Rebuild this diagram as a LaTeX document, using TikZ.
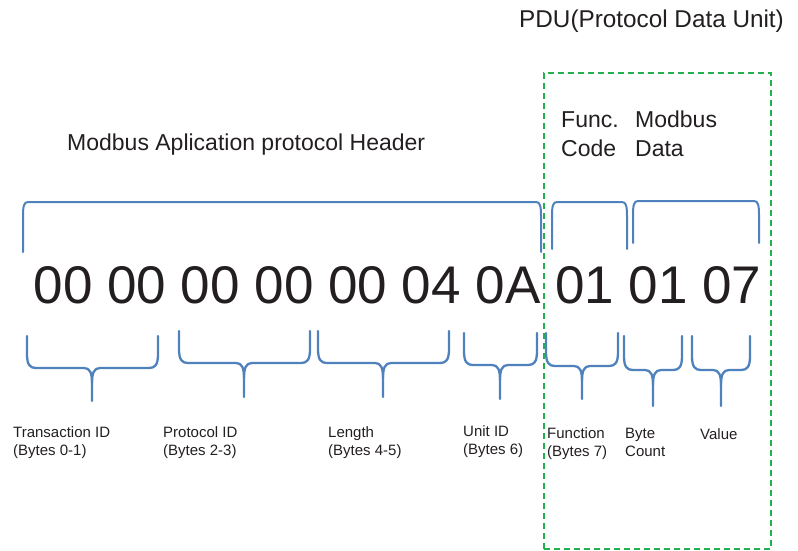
\documentclass[tikz,border=0pt]{standalone}
\usepackage{fontspec}
\setmainfont{Liberation Sans}
\definecolor{txt}{HTML}{231F20}
\definecolor{braceblue}{HTML}{4F81BD}
\definecolor{pdugreen}{HTML}{22B14C}
\newcommand\mbDownBrace[6]{% L R M T H B
  \draw[downbrace] (#1,#4) -- (#1,{#5-14}) .. controls (#1,{#5-3}) and ({#1+3},#5) .. ({#1+9},#5)
    -- ({#3-8},#5) .. controls ({#3-2},#5) and (#3,{#5+5}) .. (#3,{#5+15}) -- (#3,#6);
  \draw[downbrace] (#2,#4) -- (#2,{#5-14}) .. controls (#2,{#5-3}) and ({#2-3},#5) .. ({#2-9},#5)
    -- ({#3+8},#5) .. controls ({#3+2},#5) and (#3,{#5+5}) .. (#3,{#5+15});
}
\newcommand\mbUpBracket[4]{% L R T B
  \draw[upbracket] (#1,#4) -- (#1,{#3+14}) .. controls (#1,{#3+4}) and ({#1+1},#3) .. ({#1+5},#3)
    -- ({#2-5},#3) .. controls ({#2-1},#3) and (#2,{#3+4}) .. (#2,{#3+14}) -- (#2,#4);
}
\begin{document}
\begin{tikzpicture}[x=1pt,y=-1pt,
  lbl/.style={inner sep=0pt, anchor=base west, text=txt},
  big/.style={lbl, font=\fontsize{53}{60}\selectfont},
  head/.style={lbl, font=\fontsize{23}{28}\selectfont},
  small/.style={lbl, font=\fontsize{15}{18}\selectfont},
  downbrace/.style={draw=braceblue, line width=2.3pt, line cap=round},
  upbracket/.style={draw=braceblue, line width=2pt, line cap=round},
  pdubox/.style={draw=pdugreen, line width=2pt, dash pattern=on 6pt off 4pt, inner sep=0pt}]
\useasboundingbox (0,0) rectangle (798,551);

% PDU dashed box
\node[pdubox, minimum width=227pt, minimum height=476pt] (pdu box) at (657.5,311) {};

% titles
\node[lbl, font=\fontsize{24.3}{28}\selectfont] (pdu) at (519,28) {PDU(Protocol Data Unit)};
\node[head] (hdr) at (67,150) {Modbus Aplication protocol Header};
\node[head] (func) at (561,128) {Func.};
\node[head] (code) at (561,156) {Code};
\node[head] (mb) at (635,128) {Modbus};
\node[head] (data) at (635,156) {Data};

% top brackets
\mbUpBracket{23}{541}{202}{252}
\mbUpBracket{552}{627}{202}{249}
\mbUpBracket{633}{759}{201}{243}

% bytes
\node[big] (bytes) at (33.5,303) {00 00 00 00 00 04 0A 01 01 07};

% bottom braces
\mbDownBrace{27}{158}{92}{336}{368}{401}
\mbDownBrace{179}{310}{244}{331}{363}{397}
\mbDownBrace{318}{449}{383}{331}{363}{397}
\mbDownBrace{464}{537}{500}{333}{365}{399}
\mbDownBrace{546}{618}{582}{333}{366}{399}
\mbDownBrace{624}{682}{653}{336}{370}{406}
\mbDownBrace{692}{750}{721}{336}{370}{406}

% labels
\node[small] (tid1) at (13,437) {Transaction ID};
\node[small] (tid2) at (13,455) {(Bytes 0-1)};
\node[small] (pid1) at (163,437) {Protocol ID};
\node[small] (pid2) at (163,455) {(Bytes 2-3)};
\node[small] (len1) at (328,437) {Length};
\node[small] (len2) at (328,455) {(Bytes 4-5)};
\node[small] (uid1) at (463,436) {Unit ID};
\node[small] (uid2) at (463,454) {(Bytes 6)};
\node[small] (fn1) at (547,438) {Function};
\node[small] (fn2) at (547,456) {(Bytes 7)};
\node[small] (bc1) at (625,438) {Byte};
\node[small] (bc2) at (625,456) {Count};
\node[small] (val) at (700,439) {Value};
\end{tikzpicture}
\end{document}
